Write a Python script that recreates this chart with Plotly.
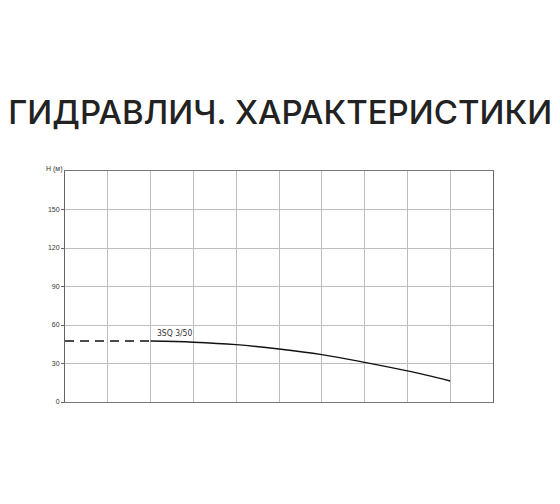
import plotly.graph_objects as go

# flow points (grid units, no x labels on the original) and head in metres
q_dash = [0, 1, 2]
h_dash = [47.5, 47.5, 47.5]
q_curve = [2, 3, 4, 5, 6, 7, 8, 9]
h_curve = [47.5, 46.6, 44.7, 41.3, 36.9, 30.9, 24.2, 16.4]

y_ticks = [0, 30, 60, 90, 120, 150]
pump_name = "3SQ 3/50"
title_text = "ГИДРАВЛИЧ. ХАРАКТЕРИСТИКИ"

fig = go.Figure()

fig.add_trace(go.Scatter(x=q_dash, y=h_dash, mode="lines",
                         line=dict(color="#111", width=1.4, dash="9px,6px"),
                         hoverinfo="skip"))
fig.add_trace(go.Scatter(x=q_curve, y=h_curve, mode="lines",
                         line=dict(color="#111", width=1.4, shape="spline"),
                         hoverinfo="skip"))

fig.add_annotation(x=2.1, y=48.5, text=pump_name, showarrow=False,
                   xanchor="left", yanchor="bottom",
                   font=dict(family="DejaVu Sans Condensed, Liberation Sans", size=8.5, color="#333"))

# axis caption
fig.add_annotation(x=0, y=180, xref="x", yref="y", text="H (м)", showarrow=False,
                   xanchor="right", yanchor="bottom", xshift=-1, yshift=-4,
                   font=dict(family="Liberation Sans", size=7, color="#333"))

fig.update_xaxes(range=[0, 10], dtick=1, tick0=0, showticklabels=False,
                 showgrid=True, gridcolor="#bdbdbd", gridwidth=1,
                 showline=True, linecolor="#777", linewidth=1, mirror=True,
                 zeroline=False, ticks="")
fig.update_yaxes(range=[0, 180], tickvals=y_ticks, showgrid=True,
                 gridcolor="#bdbdbd", gridwidth=1,
                 showline=True, linecolor="#666", linewidth=1, mirror=True,
                 zeroline=False, ticks="outside", ticklen=3, tickcolor="#666",
                 tickfont=dict(family="Liberation Sans", size=7, color="#333"))

fig.update_layout(width=560, height=504, showlegend=False,
                  plot_bgcolor="white", paper_bgcolor="white",
                  title=dict(text=title_text, x=0.486, xanchor="center",
                             xref="container", y=1 - 104 / 504, yanchor="middle",
                             yref="container",
                             font=dict(family="Inter", size=33, color="#222",
                                       weight=500)),
                  margin=dict(l=57, r=75, t=163, b=110))

fig.write_html("out.html")
